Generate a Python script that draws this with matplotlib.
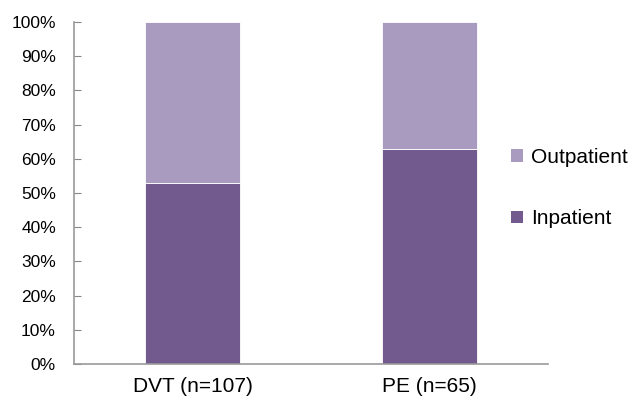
import numpy as np
import matplotlib.pyplot as plt
from matplotlib.ticker import PercentFormatter

plt.rcParams['font.family'] = ['Liberation Sans', 'DejaVu Sans']

# Share of patients by care setting
categories = ['DVT (n=107)', 'PE (n=65)']
inpatient = [53, 63]
outpatient = [47, 37]

col_in = '#725a8e'
col_out = '#a99bbf'

fig = plt.figure(figsize=(6.32, 4.04), dpi=100)
ax = fig.add_axes([74 / 632, 40 / 404, 474 / 632, 342 / 404])

x = np.arange(len(categories))
ax.bar(x, inpatient, width=0.4, color=col_in, edgecolor='white', linewidth=0.6, label='Inpatient')
ax.bar(x, outpatient, width=0.4, bottom=inpatient, color=col_out, edgecolor='white', linewidth=0.6,
       label='Outpatient')

ax.set_xlim(-0.5, 1.5)
ax.set_ylim(0, 100)
ax.set_yticks(np.arange(0, 101, 10))
ax.yaxis.set_major_formatter(PercentFormatter(decimals=0))
ax.set_xticks(x)
ax.set_xticklabels(categories, fontsize=15)
ax.tick_params(axis='y', direction='in', length=5, color='#888888', labelsize=12.5, pad=13)
ax.tick_params(axis='x', length=0, pad=9)

for side in ['top', 'right']:
    ax.spines[side].set_visible(False)
for side in ['left', 'bottom']:
    ax.spines[side].set_color('#999999')
    ax.spines[side].set_linewidth(1.2)

handles, labels = ax.get_legend_handles_labels()
leg = fig.legend(handles[::-1], labels[::-1], loc='center left', bbox_to_anchor=(503 / 632, 1 - 188 / 404),
                 frameon=False, fontsize=15, borderaxespad=0, handlelength=0.55, handleheight=0.55,
                 handletextpad=0.38, labelspacing=2.05)
for h in leg.legend_handles:
    h.set_edgecolor('none')

fig.savefig('out.png', dpi=100)
